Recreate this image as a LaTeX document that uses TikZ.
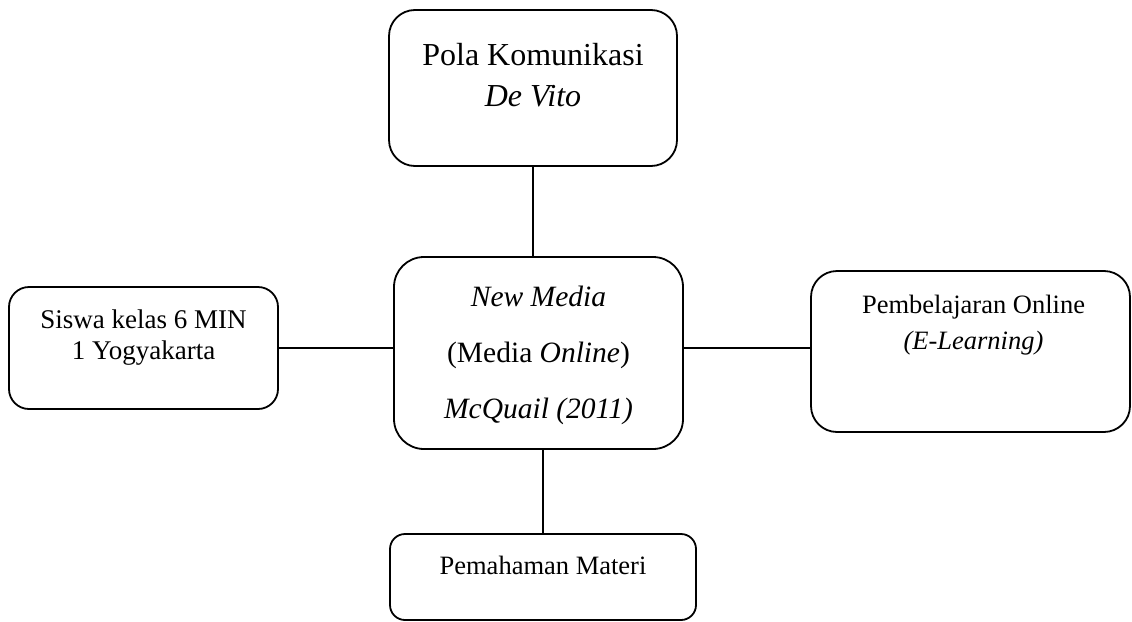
\documentclass[tikz,border=0pt]{standalone}
\usepackage{fontspec}
\setmainfont{Liberation Serif}
\usepackage{tikz}
\usetikzlibrary{positioning}
\definecolor{FontColor}{HTML}{000000}
\definecolor{LineColor}{HTML}{000000}
\newcommand\txtpola{Pola Komunikasi\\\textit{De Vito}}
\newcommand\txtmedia{\textit{New Media}\\(Media \textit{Online})\\\textit{McQuail (2011)}}
\newcommand\txtsiswa{Siswa kelas 6 MIN\\1 Yogyakarta}
\newcommand\txtelearn{Pembelajaran Online\\\textit{(E-Learning)}}
\newcommand\txtmateri{Pemahaman Materi}
\tikzstyle{boxstyle} = [rectangle, draw=LineColor, fill=white, inner sep=0pt]
\tikzstyle{txtstyle} = [align=center, inner sep=0pt, text=FontColor]
\tikzset{every picture/.style={line width=1.8pt}}

\begin{document}
\begin{tikzpicture}[x=1pt, y=-1pt]
\useasboundingbox (0,0) rectangle (1132,621);
\node[boxstyle, minimum width=288pt, minimum height=156pt, rounded corners=26pt] (pola) at (533, 88) {};
\node[boxstyle, minimum width=289pt, minimum height=192pt, rounded corners=30pt] (media) at (538.5, 353) {};
\node[boxstyle, minimum width=269pt, minimum height=122pt, rounded corners=20pt] (siswa) at (143.5, 348) {};
\node[boxstyle, minimum width=319pt, minimum height=161pt, rounded corners=26pt] (elearn) at (970.5, 351.5) {};
\node[boxstyle, minimum width=306pt, minimum height=86pt, rounded corners=15pt] (materi) at (543, 577) {};
\node[txtstyle, font=\fontsize{32}{41}\selectfont, below=33pt of pola.north] (pola-t) {\txtpola};
\node[txtstyle, font=\fontsize{29.5}{56}\selectfont, below=29pt of media.north] (media-t) {\txtmedia};
\node[txtstyle, font=\fontsize{27}{31}\selectfont, below=23pt of siswa.north] (siswa-t) {\txtsiswa};
\node[txtstyle, font=\fontsize{26.5}{36}\selectfont, below=24pt of elearn.north, xshift=3pt] (elearn-t) {\txtelearn};
\node[txtstyle, font=\fontsize{26.5}{32}\selectfont, below=22pt of materi.north] (materi-t) {\txtmateri};
\draw (pola) -- (pola |- media.north);
\draw (siswa) -- (siswa -| media.west);
\draw (media.east |- siswa) -- (elearn.west |- siswa);
\draw (materi) -- (materi |- media.south);
\end{tikzpicture}
\end{document}
